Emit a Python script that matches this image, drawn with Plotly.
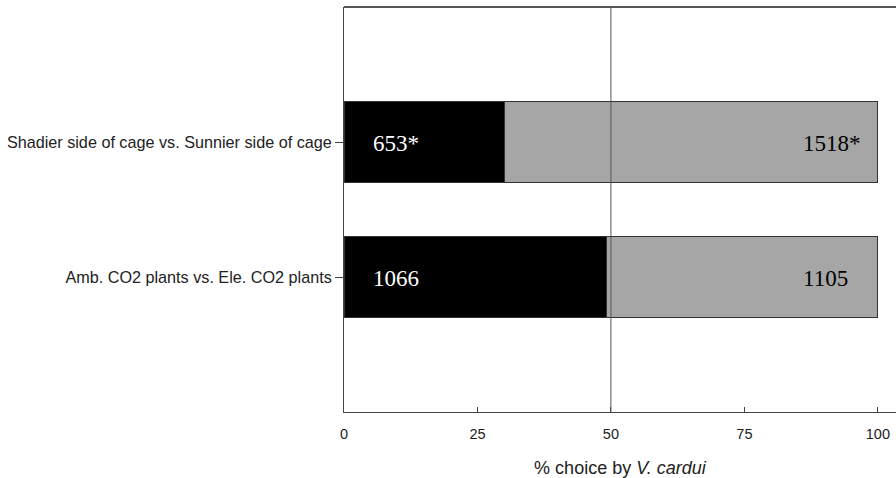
import plotly.graph_objects as go

categories = ["Amb. CO2 plants vs. Ele. CO2 plants",
              "Shadier side of cage vs. Sunnier side of cage"]
first_counts = [1066, 653]
second_counts = [1105, 1518]
first_labels = ["1066", "653*"]
second_labels = ["1105", "1518*"]
x_ticks = [0, 25, 50, 75, 100]

totals = [a + b for a, b in zip(first_counts, second_counts)]
first_pct = [a / t * 100 for a, t in zip(first_counts, totals)]
second_pct = [b / t * 100 for b, t in zip(second_counts, totals)]

fig = go.Figure()
fig.add_trace(go.Bar(y=categories, x=first_pct, orientation="h", width=0.6,
                     marker=dict(color="#000000", line=dict(color="#333333", width=1)),
                     hoverinfo="skip", showlegend=False))
fig.add_trace(go.Bar(y=categories, x=second_pct, orientation="h", width=0.6,
                     marker=dict(color="#a6a6a6", line=dict(color="#333333", width=1)),
                     hoverinfo="skip", showlegend=False))

serif = "Liberation Serif, Times New Roman, serif"
for cat, lab in zip(categories, first_labels):
    fig.add_annotation(x=0, y=cat, text=lab, showarrow=False, xanchor="left",
                       xshift=27, yshift=-1, font=dict(family=serif, size=23, color="white"))
for cat, lab, f, s in zip(categories, second_labels, first_pct, second_pct):
    fig.add_annotation(x=f + s, y=cat, text=lab, showarrow=False, xanchor="left",
                       xshift=-77, yshift=-1, font=dict(family=serif, size=23, color="black"))

# vertical reference line at 50 %
fig.add_shape(type="line", x0=50, x1=50, y0=0, y1=1, xref="x", yref="paper",
              line=dict(color="#555555", width=1), layer="above")
# top frame line
fig.add_shape(type="line", x0=0, x1=1, y0=1, y1=1, xref="paper", yref="paper",
              line=dict(color="#555555", width=2), layer="above")

fig.update_layout(
    barmode="stack",
    width=896, height=478,
    margin=dict(l=344, r=0, t=7, b=66),
    plot_bgcolor="white", paper_bgcolor="white",
    font=dict(family="Liberation Sans, Arial, sans-serif", size=14, color="#222222"),
)
fig.update_xaxes(range=[0, 103.4], tickvals=x_ticks, ticks="inside", ticklen=5,
                 tickcolor="#444444", showline=True, linecolor="#444444", linewidth=1,
                 showgrid=False, zeroline=False, tickfont=dict(size=14.5),
                 ticklabelstandoff=9,
                 title=dict(text="% choice by <i>V. cardui</i>", font=dict(size=18), standoff=22))
fig.update_yaxes(range=[-1, 2], categoryorder="array", categoryarray=categories,
                 ticks="outside", ticklen=8, tickcolor="#444444", showline=True,
                 linecolor="#444444", linewidth=1, showgrid=False, zeroline=False,
                 tickfont=dict(size=16.2))

fig.write_html("out.html", config={"displayModeBar": False},
               post_script="document.body.style.margin='0';")
